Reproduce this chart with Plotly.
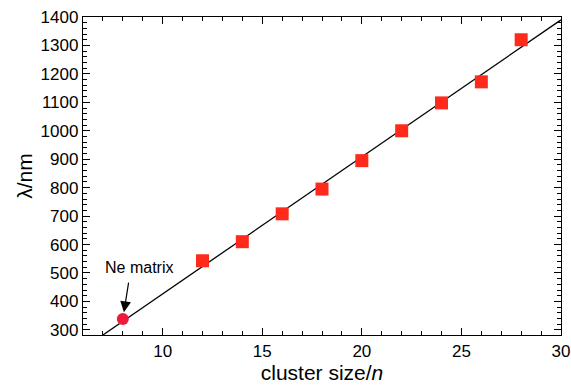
import plotly.graph_objects as go

cluster_n = [12, 14, 16, 18, 20, 22, 24, 26, 28]
wavelength_nm = [543, 610, 708, 795, 895, 1000, 1098, 1172, 1320]
ne_n = [8]
ne_wavelength = [338]
fit_n = [7, 30]
fit_wavelength = [282, 1390]
x_ticks = [10, 15, 20, 25, 30]
y_ticks = [300, 400, 500, 600, 700, 800, 900, 1000, 1100, 1200, 1300, 1400]

FONT = "Liberation Sans, Arial, Helvetica"

fig = go.Figure()
fig.add_trace(go.Scatter(x=fit_n, y=fit_wavelength, mode="lines",
                         line=dict(color="black", width=1.3), hoverinfo="skip"))
fig.add_trace(go.Scatter(x=cluster_n, y=wavelength_nm, mode="markers",
                         marker=dict(symbol="square", size=13, color="#ff2a1c")))
fig.add_trace(go.Scatter(x=ne_n, y=ne_wavelength, mode="markers",
                         marker=dict(symbol="circle", size=12, color="#ec1b3b")))

fig.add_annotation(x=ne_n[0], y=ne_wavelength[0], ax=6, ay=-38,
                   xref="x", yref="y",
                   text="", showarrow=True, arrowhead=2, arrowsize=1.8,
                   arrowwidth=1.2, arrowcolor="black", standoff=7)
fig.add_annotation(x=ne_n[0], y=ne_wavelength[0], text="Ne matrix",
                   showarrow=False, xshift=16, yshift=52,
                   font=dict(family=FONT, size=16, color="black"))

axis_common = dict(showline=True, linecolor="black", linewidth=1.3, mirror="allticks",
                   ticks="inside", ticklen=7, tickwidth=1, tickcolor="black",
                   showgrid=False, zeroline=False, automargin=False,
                   tickfont=dict(family=FONT, size=17, color="black"))

fig.update_xaxes(range=[6, 30], tickvals=x_ticks,
                 minor=dict(dtick=1, ticks="inside", ticklen=4, tickcolor="black", showgrid=False),
                 title=dict(text="cluster size/<i>n</i>", standoff=0,
                            font=dict(family=FONT, size=21, color="black")),
                 **axis_common)
fig.update_yaxes(range=[282, 1400], tickvals=y_ticks,
                 minor=dict(dtick=20, tick0=0, ticks="inside", ticklen=4, tickcolor="black", showgrid=False),
                 title=dict(text="λ/nm", standoff=2,
                            font=dict(family=FONT, size=21, color="black")),
                 **axis_common)

fig.update_layout(width=571, height=385, showlegend=False,
                  font=dict(family=FONT, color="black"),
                  margin=dict(l=83, r=10, t=17, b=50),
                  plot_bgcolor="white", paper_bgcolor="white")
fig.write_html("out.html", config={"displayModeBar": False},
               post_script="document.body.style.margin='0';document.body.style.overflow='hidden';")
